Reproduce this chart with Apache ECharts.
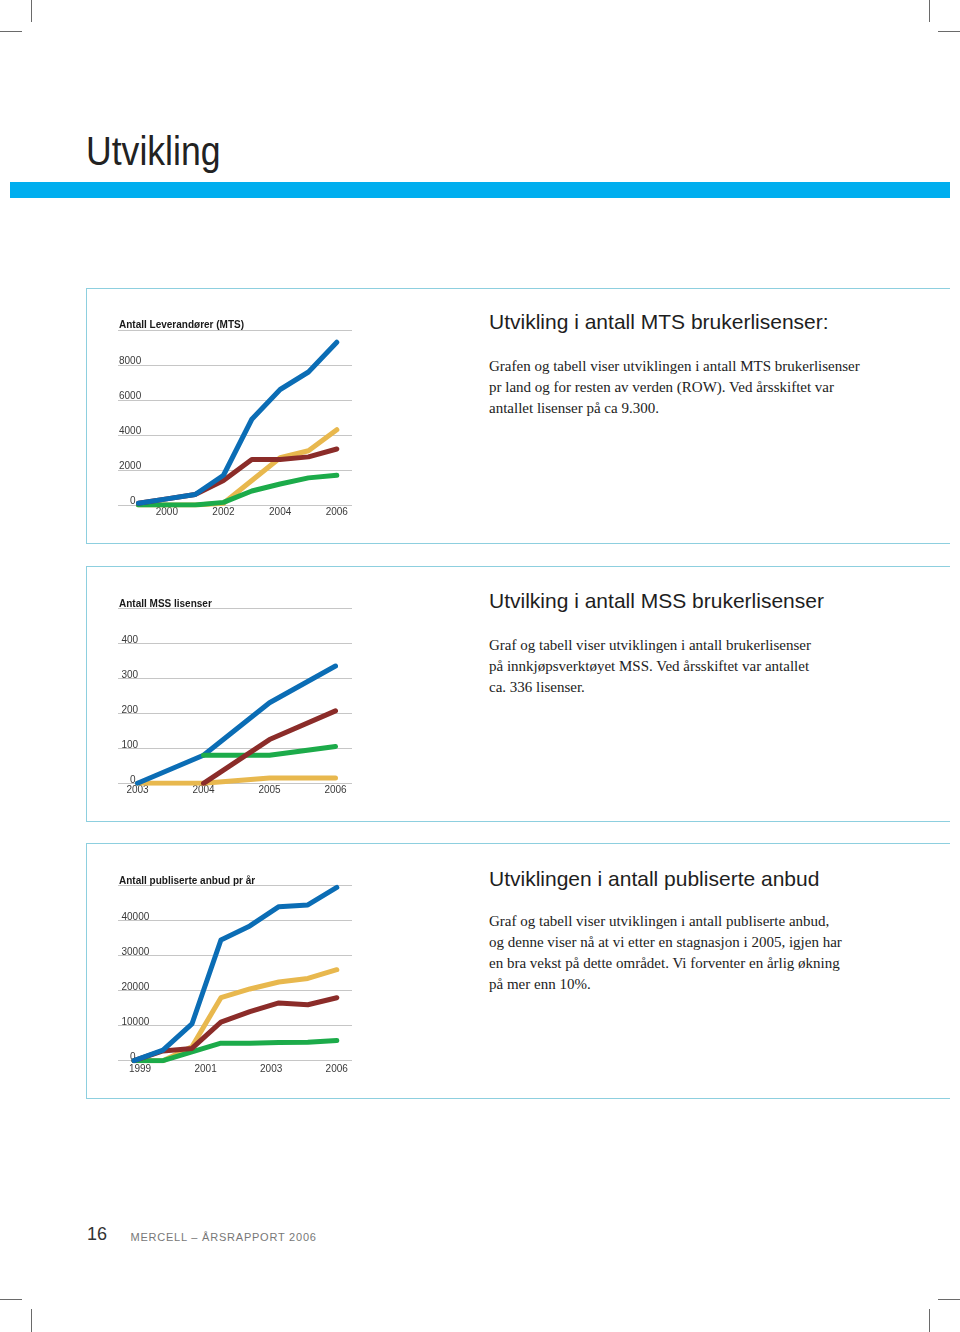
<!DOCTYPE html>
<html>
<head>
<meta charset="utf-8">
<script src="https://cdn.jsdelivr.net/npm/echarts@6/dist/echarts.min.js"></script>
<style>
  html, body { margin: 0; padding: 0; background: #fff; }
  #page { position: relative; width: 960px; height: 1332px; overflow: hidden; background: #fff; }
  .abs { position: absolute; white-space: nowrap; }
  .crop { position: absolute; background: #6a6a6a; }
  .box { position: absolute; left: 85.5px; width: 864.5px; border: 1px solid #8dcfdf; border-right: none; box-sizing: border-box; }
  .head { position: absolute; left: 489px; font-family: "Liberation Sans", Arial, sans-serif; font-size: 21px; line-height: 21px; color: #1e1e1e; white-space: nowrap; }
  .body { position: absolute; left: 489px; font-family: "Liberation Serif", "Times New Roman", serif; font-size: 15px; line-height: 21px; color: #222; white-space: nowrap; }
  #chart { position: absolute; left: 0; top: 0; width: 960px; height: 1332px; z-index: 2; }
</style>
</head>
<body>
<div id="page">
  <!-- crop marks -->
  <div class="crop" style="left:30.5px;top:0;width:1px;height:22px"></div>
  <div class="crop" style="left:0;top:31px;width:22px;height:1px"></div>
  <div class="crop" style="left:929px;top:0;width:1px;height:22px"></div>
  <div class="crop" style="left:938px;top:31px;width:22px;height:1px"></div>
  <div class="crop" style="left:0;top:1299px;width:22px;height:1px"></div>
  <div class="crop" style="left:31px;top:1309px;width:1px;height:23px"></div>
  <div class="crop" style="left:938px;top:1299px;width:22px;height:1px"></div>
  <div class="crop" style="left:929px;top:1309px;width:1px;height:23px"></div>

  <div class="abs" style="left:86px;top:131px;font-family:'Liberation Sans',Arial,sans-serif;font-size:40px;line-height:40px;color:#222;transform:scaleX(0.89);transform-origin:0 0;">Utvikling</div>
  <div class="abs" style="left:10px;top:181.5px;width:940px;height:16.5px;background:#00aeef;"></div>

  <div class="box" style="top:288px;height:256px;"></div>
  <div class="box" style="top:566px;height:256px;"></div>
  <div class="box" style="top:843px;height:256px;"></div>

  <div class="head" style="top:311px;">Utvikling i antall MTS brukerlisenser:</div>
  <div class="body" style="top:356px;">Grafen og tabell viser utviklingen i antall MTS brukerlisenser<br>pr land og for resten av verden (ROW). Ved årsskiftet var<br>antallet lisenser på ca 9.300.</div>

  <div class="head" style="top:590px;">Utvilking i antall MSS brukerlisenser</div>
  <div class="body" style="top:635px;">Graf og tabell viser utviklingen i antall brukerlisenser<br>på innkjøpsverktøyet MSS. Ved årsskiftet var antallet<br>ca. 336 lisenser.</div>

  <div class="head" style="top:867.5px;">Utviklingen i antall publiserte anbud</div>
  <div class="body" style="top:911.4px;">Graf og tabell viser utviklingen i antall publiserte anbud,<br>og denne viser nå at vi etter en stagnasjon i 2005, igjen har<br>en bra vekst på dette området. Vi forventer en årlig økning<br>på mer enn 10%.</div>

  <div class="abs" style="left:87px;top:1224.7px;font-family:'Liberation Sans',Arial,sans-serif;font-size:18px;line-height:18px;color:#333;">16</div>
  <div class="abs" style="left:130.5px;top:1231.7px;font-family:'Liberation Sans',Arial,sans-serif;font-size:11px;line-height:11px;letter-spacing:0.78px;color:#777;">MERCELL – ÅRSRAPPORT 2006</div>

  <div id="chart"></div>
</div>
<script>
// ---------- data ----------
const mtsYears = ['1999','2000','2001','2002','2003','2004','2005','2006'];
const mtsBlue   = [100, 350, 600, 1700, 4900, 6600, 7600, 9300];
const mtsRed    = [100, 350, 600, 1400, 2600, 2600, 2750, 3200];
const mtsYellow = [0, 0, 0, 100, 1400, 2700, 3100, 4300];
const mtsGreen  = [0, 0, 0, 150, 800, 1200, 1550, 1700];
const mtsTicks  = { max: 10000, step: 2000 };

const mssYears = ['2003','2004','2005','2006'];
const mssBlue   = [0, 80, 230, 335];
const mssRed    = [null, 0, 125, 207];
const mssGreen  = [null, 80, 80, 105];
const mssYellow = [0, 0, 15, 15];
const mssTicks  = { max: 500, step: 100 };

const anbYears = ['1999','2000','2001','2002','2003','2004','2005','2006'];
const anbBlue   = [0, 3000, 10500, 34500, 38500, 44000, 44500, 49500];
const anbYellow = [0, 0, 4000, 18000, 20500, 22500, 23500, 26000];
const anbRed    = [0, 2800, 3500, 11000, 14000, 16500, 16000, 18000];
const anbGreen  = [0, 0, 2500, 5000, 5000, 5200, 5300, 5800];
const anbTickLabels = ['1999','2001','2003','2006'];
const anbTicks  = { max: 50000, step: 10000 };

const chartTitles = ['Antall Leverandører (MTS)', 'Antall MSS lisenser', 'Antall publiserte anbud pr år'];

// ---------- styling ----------
const C = { blue: '#0b6db5', red: '#8b2c29', yellow: '#e8b84e', green: '#1cab4a' };
const gridLine = '#c6c6c6';
const labelColor = '#3a3a3a';
const FONT = '"Liberation Sans", Arial, sans-serif';

const chartTops = [330, 608.3, 885.7];
const plotH = 175;
const frameLeft = 118, frameW = 234;
const dataGrids = [
  { left: 138.5, width: 198.3 },
  { left: 137.5, width: 198 },
  { left: 134, width: 202.8 }
];
const yLabelMargins = [1, 3.5, 3.5];

const grids = [], xAxes = [], yAxes = [], series = [], titles = [];

function frameY(ticks, margin) {
  const zeroPad = 12 - margin;
  return {
    type: 'value', min: 0, max: ticks.max, interval: ticks.step,
    axisLine: { show: false }, axisTick: { show: false },
    splitLine: { show: true, lineStyle: { color: gridLine, width: 1 } },
    axisLabel: {
      inside: true, margin: margin, showMaxLabel: false,
      verticalAlign: 'bottom', fontSize: 10, fontFamily: FONT, color: labelColor, lineHeight: 7,
      formatter: v => v === 0 ? '{z|0}' : String(v),
      rich: { z: { padding: [0, 0, 0, zeroPad], fontSize: 10, lineHeight: 7, fontFamily: FONT, color: labelColor } }
    }
  };
}
function hiddenY(ticks) {
  return { type: 'value', min: 0, max: ticks.max, show: false, splitLine: { show: false } };
}
function line(name, data, color, axisIdx, z) {
  return {
    name, type: 'line', data, xAxisIndex: axisIdx, yAxisIndex: axisIdx,
    symbol: 'none', silent: true, z: z,
    lineStyle: { color, width: 5, cap: 'round', join: 'round' },
    connectNulls: false
  };
}

const tickSets = [mtsTicks, mssTicks, anbTicks];
const yearSets = [mtsYears, mssYears, anbYears];
const xLabelMargins = [2, 2, 4];

for (let k = 0; k < 3; k++) {
  const top = chartTops[k];
  grids.push({ left: frameLeft, width: frameW, top, height: plotH, containLabel: false });
  xAxes.push({ type: 'value', gridIndex: 2 * k, show: false, min: 0, max: 1 });
  yAxes.push(Object.assign({ gridIndex: 2 * k }, frameY(tickSets[k], yLabelMargins[k])));
  grids.push({ left: dataGrids[k].left, width: dataGrids[k].width, top, height: plotH, containLabel: false });
  const showLab = k !== 2;
  xAxes.push({
    type: 'category', gridIndex: 2 * k + 1, data: yearSets[k], boundaryGap: false,
    axisLine: { show: false }, axisTick: { show: false }, splitLine: { show: false },
    axisLabel: {
      show: showLab, margin: xLabelMargins[k], fontSize: 10, fontFamily: FONT, color: labelColor,
      interval: k === 0 ? ((i) => i % 2 === 1) : 0
    }
  });
  yAxes.push(Object.assign({ gridIndex: 2 * k + 1 }, hiddenY(tickSets[k])));
  titles.push({
    text: chartTitles[k], left: 119, top: top - 9.5, padding: 0,
    textStyle: { fontSize: 10, fontWeight: 'bold', fontFamily: FONT, color: '#1a1a1a' }
  });
}
grids.push({ left: 140, width: 196.7, top: chartTops[2], height: plotH, containLabel: false });
xAxes.push({
  type: 'category', gridIndex: 6, data: anbTickLabels, boundaryGap: false,
  axisLine: { show: false }, axisTick: { show: false }, splitLine: { show: false },
  axisLabel: { margin: 4, fontSize: 10, fontFamily: FONT, color: labelColor, interval: 0 }
});
yAxes.push({ type: 'value', gridIndex: 6, show: false, min: 0, max: 1 });

series.push(line('MTS gul', mtsYellow, C.yellow, 1, 2));
series.push(line('MTS grønn', mtsGreen, C.green, 1, 3));
series.push(line('MTS rød', mtsRed, C.red, 1, 4));
series.push(line('MTS blå', mtsBlue, C.blue, 1, 5));

series.push(line('MSS gul', mssYellow, C.yellow, 3, 2));
series.push(line('MSS blå', mssBlue, C.blue, 3, 3));
series.push(line('MSS grønn', mssGreen, C.green, 3, 4));
series.push(line('MSS rød', mssRed, C.red, 3, 5));

series.push(line('Anbud gul', anbYellow, C.yellow, 5, 2));
series.push(line('Anbud grønn', anbGreen, C.green, 5, 3));
series.push(line('Anbud rød', anbRed, C.red, 5, 4));
series.push(line('Anbud blå', anbBlue, C.blue, 5, 5));

const chart = echarts.init(document.getElementById('chart'), null, { renderer: 'canvas', width: 960, height: 1332 });
chart.setOption({
  backgroundColor: 'transparent',
  animation: false,
  title: titles,
  grid: grids,
  xAxis: xAxes,
  yAxis: yAxes,
  series: series
});
</script>
</body>
</html>
